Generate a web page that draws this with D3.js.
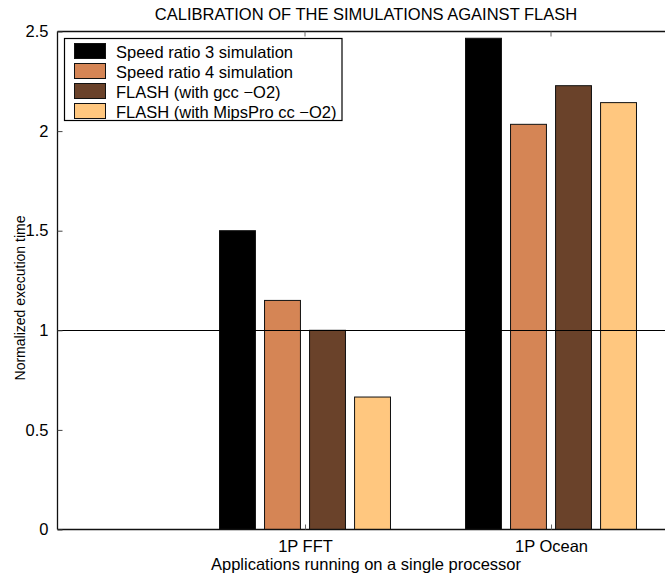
<!DOCTYPE html>
<html>
<head>
<meta charset="utf-8">
<script src="https://cdn.jsdelivr.net/npm/d3@7"></script>
<style>
  html, body { margin: 0; padding: 0; background: #fff; }
  svg { display: block; font-family: "Liberation Sans", Arial, Helvetica, sans-serif; }
</style>
</head>
<body>
<svg id="chart" width="665" height="578"></svg>
<script>
// Applications (x categories) and their positions on the axis
const categories = ["1P FFT", "1P Ocean"];
const categoryPos = [1, 2];

// Series names and normalized execution times per application
const seriesNames = [
  "Speed ratio 3 simulation",
  "Speed ratio 4 simulation",
  "FLASH (with gcc \u2212O2)",
  "FLASH (with MipsPro cc \u2212O2)"
];
const speedRatio3 = [1.50, 2.466];
const speedRatio4 = [1.15, 2.034];
const flashGcc = [1.00, 2.228];
const flashMipsPro = [0.665, 2.143];
const seriesColors = ["#000000", "#d58555", "#6a422a", "#ffc77f"];

const yTicks = [0, 0.5, 1, 1.5, 2, 2.5];
const yTickLabels = ["0", "0.5", "1", "1.5", "2", "2.5"];

const seriesValues = [speedRatio3, speedRatio4, flashGcc, flashMipsPro];

const svg = d3.select("#chart");

const x = d3.scaleLinear().domain([0, 2.5]).range([59, 674]);
const y = d3.scaleLinear().domain([0, 2.5]).range([529.5, 31.5]);

const axisLeft = 57.5;
const barW = x(0.146) - x(0);
const barStep = x(0.183) - x(0);

// Bars
seriesValues.forEach((vals, s) => {
  svg.append("g").selectAll("rect")
    .data(vals.map((v, i) => ({ v, i })))
    .join("rect")
    .attr("x", d => x(categoryPos[d.i]) + (s - 1.5) * barStep - barW / 2)
    .attr("y", d => y(d.v))
    .attr("width", barW)
    .attr("height", d => y(0) - y(d.v))
    .attr("fill", seriesColors[s])
    .attr("stroke", "#111")
    .attr("stroke-width", 1);
});

// Reference line at 1
svg.append("line")
  .attr("x1", axisLeft).attr("x2", 665)
  .attr("y1", Math.round(y(1)) + 0.5).attr("y2", Math.round(y(1)) + 0.5)
  .attr("stroke", "#000").attr("stroke-width", 1);

// Box axes (left, bottom, top)
const axisStroke = "#111";
svg.append("line").attr("x1", axisLeft).attr("x2", axisLeft)
  .attr("y1", y(2.5)).attr("y2", y(0)).attr("stroke", axisStroke).attr("stroke-width", 1.3);
svg.append("line").attr("x1", axisLeft).attr("x2", 665)
  .attr("y1", y(0)).attr("y2", y(0)).attr("stroke", axisStroke).attr("stroke-width", 1.3);
svg.append("line").attr("x1", axisLeft).attr("x2", 665)
  .attr("y1", y(2.5)).attr("y2", y(2.5)).attr("stroke", axisStroke).attr("stroke-width", 1.3);

// Y axis ticks (inward) and labels
const yAxis = d3.axisLeft(y)
  .tickValues(yTicks)
  .tickFormat((d, i) => yTickLabels[i])
  .tickSizeInner(-5)
  .tickSizeOuter(0)
  .tickPadding(9);
const gy = svg.append("g").attr("transform", `translate(${axisLeft},0)`).call(yAxis);
gy.select(".domain").remove();
gy.selectAll(".tick line").attr("stroke", "#444");
gy.selectAll(".tick text")
  .attr("font-size", "16.5px")
  .attr("font-family", "Liberation Sans, Arial, sans-serif")
  .attr("fill", "#000");

// X axis ticks (inward, bottom) and category labels
const xAxis = d3.axisBottom(x)
  .tickValues(categoryPos)
  .tickFormat((d, i) => categories[i])
  .tickSizeInner(-5)
  .tickSizeOuter(0)
  .tickPadding(11);
const gx = svg.append("g").attr("transform", `translate(0,${y(0)})`).call(xAxis);
gx.select(".domain").remove();
gx.selectAll(".tick line").attr("stroke", "#666");
gx.selectAll(".tick text")
  .attr("font-size", "16.5px")
  .attr("font-family", "Liberation Sans, Arial, sans-serif")
  .attr("fill", "#000");

// Top ticks (inward)
svg.append("g").selectAll("line")
  .data(categoryPos)
  .join("line")
  .attr("x1", d => x(d)).attr("x2", d => x(d))
  .attr("y1", y(2.5)).attr("y2", y(2.5) + 5)
  .attr("stroke", "#666");

// Title and axis titles
svg.append("text")
  .attr("x", 366).attr("y", 20)
  .attr("text-anchor", "middle")
  .attr("font-size", "16.5px")
  .text("CALIBRATION OF THE SIMULATIONS AGAINST FLASH");

svg.append("text")
  .attr("x", 366).attr("y", 570)
  .attr("text-anchor", "middle")
  .attr("font-size", "16.5px")
  .text("Applications running on a single processor");

svg.append("text")
  .attr("transform", "translate(25,298) rotate(-90)")
  .attr("text-anchor", "middle")
  .attr("font-size", "14px")
  .text("Normalized execution time");

// Legend
const legend = svg.append("g");
legend.append("rect")
  .attr("x", 64.5).attr("y", 38.5)
  .attr("width", 277.5).attr("height", 82)
  .attr("fill", "#fff")
  .attr("stroke", "#000").attr("stroke-width", 1.2);
const rows = legend.selectAll("g.row")
  .data(seriesNames)
  .join("g")
  .attr("class", "row")
  .attr("transform", (d, i) => `translate(0,${43.5 + i * 20})`);
rows.append("rect")
  .attr("x", 74.5).attr("y", 0)
  .attr("width", 31).attr("height", 15)
  .attr("fill", (d, i) => seriesColors[i])
  .attr("stroke", "#111").attr("stroke-width", 1);
rows.append("text")
  .attr("x", 116).attr("y", 14)
  .attr("font-size", "16.5px")
  .text(d => d);
</script>
</body>
</html>
